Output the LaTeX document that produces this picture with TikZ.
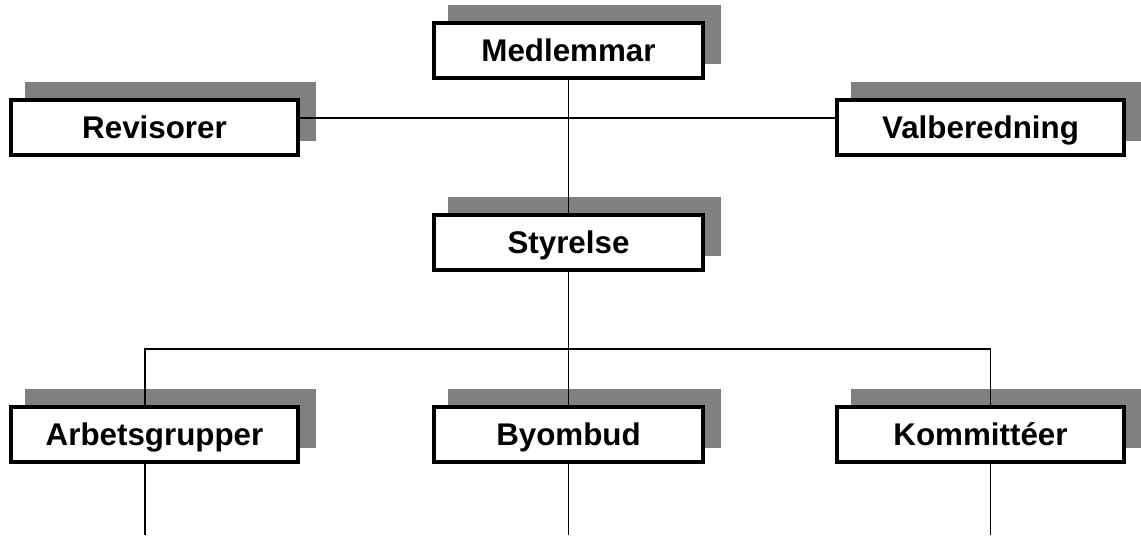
\documentclass[tikz,border=0pt]{standalone}
\usepackage{fontspec}
\setmainfont{Liberation Sans}
\usepackage{xcolor}
\usetikzlibrary{positioning}
\definecolor{shadegray}{RGB}{128,128,128}
\pgfdeclarelayer{shadowlayer}
\pgfdeclarelayer{linelayer}
\pgfsetlayers{shadowlayer,linelayer,main}

\begin{document}
\begin{tikzpicture}[x=0.75pt,y=-0.75pt,node distance=144pt,
  main node/.style={rectangle,draw,line width=3pt,fill=white,inner sep=0pt,
    minimum width=201.75pt,minimum height=41.25pt,
    font=\bfseries\fontsize{23.5}{28}\selectfont,text height=16.8pt,text depth=0pt},
  wide node/.style={main node,minimum width=215.25pt},
  link/.style={line width=1.1pt}]
            \useasboundingbox (0,0) rectangle (1141,535);

            \node[main node] (medlemmar) at (568.5,50.5) {Medlemmar};
            \node[main node] (styrelse) [below of=medlemmar] {Styrelse};
            \node[main node] (byombud) [below of=styrelse] {Byombud};
            \node[wide node] (arbetsgrupper) [left of=byombud, node distance=310.5pt] {Arbetsgrupper};
            \node[wide node] (kommitteer) [right of=byombud, node distance=309pt] {Kommittéer};
            \node[wide node] (revisorer) [above of=arbetsgrupper, node distance=230.6pt] {Revisorer};
            \node[wide node] (valberedning) [above of=kommitteer, node distance=230.6pt] {Valberedning};

            % gray shadows behind the boxes
            \begin{pgfonlayer}{shadowlayer}
                \foreach \n in {medlemmar,styrelse,byombud,arbetsgrupper,kommitteer,revisorer,valberedning}
                    \fill[shadegray] ([shift={(16,-16)}]\n.south west) rectangle ([shift={(16,-16)}]\n.north east);
            \end{pgfonlayer}

            \coordinate (crossbar) at (568,118);
            \coordinate (leftdrop) at (145,349);
            \coordinate (rightdrop) at (990.5,349);
            \coordinate (foot) at (568,535);

            \begin{pgfonlayer}{linelayer}
                \draw[link] (medlemmar) -- (styrelse);
                \draw[link] (revisorer |- crossbar) -- (valberedning |- crossbar);
                \draw[link] (styrelse) -- (byombud);
                \draw[link] (arbetsgrupper -| leftdrop) -- (leftdrop) -- (rightdrop) -- (kommitteer -| rightdrop);
                \draw[link] (arbetsgrupper -| leftdrop) -- (leftdrop |- foot);
                \draw[link] (byombud) -- (byombud |- foot);
                \draw[link] (kommitteer -| rightdrop) -- (rightdrop |- foot);
                %\draw[link] (byombud) -- (foot);
            \end{pgfonlayer}
        \end{tikzpicture}
\end{document}
